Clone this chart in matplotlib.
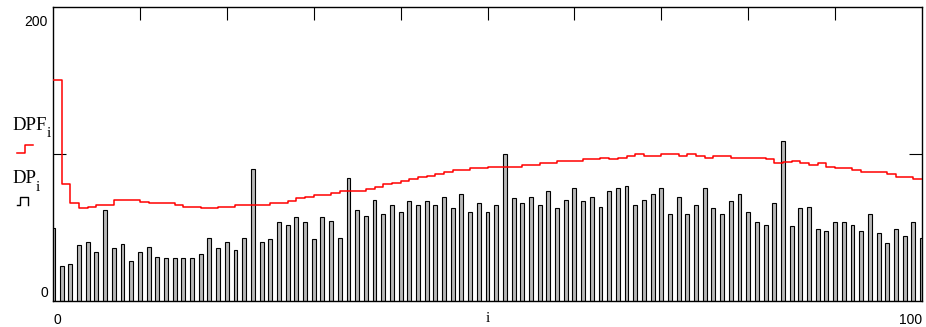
import matplotlib.pyplot as plt
import numpy as np
from matplotlib.lines import Line2D

# bar series DP_i, i = 0..100
DP = [50, 24, 25, 38, 40, 33, 62, 36, 39, 27,
      33, 37, 30, 29, 29, 29, 29, 32, 43, 36,
      40, 35, 43, 90, 40, 42, 53.5, 52, 57, 53.5,
      42, 57, 54.6, 43, 84, 62, 58, 69, 59, 65,
      60.5, 68, 65, 68, 65, 71, 63, 72.5, 60.5, 66.7,
      60.5, 65, 100, 70, 66.7, 71, 65, 75, 63, 69,
      77, 68, 71, 64, 75, 77, 78.5, 65, 69, 72.5,
      77, 59, 71, 59, 65, 77, 63, 59, 68, 72.5,
      60.5, 53.5, 52, 66.7, 109, 51, 63, 64, 48.8, 47.6,
      53.5, 53.5, 52, 47.6, 59, 46.5, 39.5, 48.8, 44, 53.5,
      43]

# step series DPF_i
DPF = [150, 79.6, 66.4, 63, 64.1, 65.3, 65.3, 68.7, 68.7, 68.7,
       67.5, 66.4, 66.4, 66.4, 65.3, 64.1, 64.1, 63, 63, 64.1,
       64.1, 65.3, 65.3, 65.3, 65.3, 66.4, 66.4, 68.2, 69.8, 71,
       72.3, 72.3, 73.5, 74.6, 74.6, 74.6, 76.2, 77.8, 79.4, 80.5,
       81.6, 82.8, 84.1, 85.3, 86.4, 87.5, 89.1, 89.1, 90.2, 90.2,
       91.4, 91.4, 91.4, 91.4, 92.5, 92.5, 93.7, 93.7, 95.2, 95.2,
       95.2, 96.4, 96.4, 97.5, 96.4, 97.5, 98.6, 100, 98.6, 98.6,
       100, 100, 98.6, 100, 98.6, 97.5, 98.6, 98.6, 97.5, 97.5,
       97.5, 97.5, 96.4, 94.1, 94.8, 95.5, 94.2, 92.8, 94.2, 91.4,
       90.2, 90.2, 89.1, 88, 88, 88, 86.6, 84.6, 84.6, 83.2,
       83]

i = np.arange(len(DP))

W, H = 926, 327
fig = plt.figure(figsize=(W / 100, H / 100), dpi=100)
ax = fig.add_axes([53 / W, 1 - 301 / H, (922 - 53) / W, (301 - 7) / H])

ax.bar(i, DP, width=0.45, color='#b8b8b8', edgecolor='black', linewidth=0.8, zorder=2)
ax.step(i, DPF, where='post', color='#ff0000', linewidth=1.1, zorder=3)

ax.set_xlim(0, 100)
ax.set_ylim(0, 200)
ax.set_xticks(range(10, 100, 10))
ax.set_yticks([100])
ax.tick_params(axis='x', direction='in', length=9.5, width=0.8,
               top=True, bottom=True, labelbottom=False)
ax.tick_params(axis='y', direction='in', length=9.5, width=0.8,
               left=True, right=True, labelleft=False)
for s in ax.spines.values():
    s.set_linewidth(1.0)

num = dict(family='Liberation Sans', fontsize=10, color='black',
           textcoords='offset pixels', annotation_clip=False)
ax.annotate('200', xy=(0, 200), xytext=(-5, -8), ha='right', va='top', **num)
ax.annotate('0', xy=(0, 0), xytext=(-5, 1), ha='right', va='bottom', **num)
ax.annotate('0', xy=(0, 0), xytext=(0, -12), ha='left', va='top', **num)
ax.annotate('100', xy=(100, 0), xytext=(0, -12), ha='right', va='top', **num)
ax.annotate('i', xy=(50, 0), xytext=(0, -11), ha='center', va='top',
            family='Liberation Serif', fontsize=11,
            textcoords='offset pixels', annotation_clip=False)


def px(x, y):
    return x / W, 1 - y / H


serif = dict(family='Liberation Serif', va='baseline')
fig.text(*px(12, 130), 'DPF', fontsize=13.5, **serif)
fig.text(*px(47, 137), 'i', fontsize=11, **serif)
fig.text(*px(12, 183), 'DP', fontsize=13.5, **serif)
fig.text(*px(36, 191), 'i', fontsize=11, **serif)

xs, ys = zip(*[px(17, 153), px(25, 153), px(25, 145), px(33, 145)])
fig.add_artist(Line2D(xs, ys, color='#ff0000', lw=1.1, transform=fig.transFigure))
xs, ys = zip(*[px(17, 205), px(20, 205), px(20, 197), px(28, 197), px(28, 205)])
fig.add_artist(Line2D(xs, ys, color='black', lw=1.0, transform=fig.transFigure))

fig.savefig('out.png', dpi=100)
